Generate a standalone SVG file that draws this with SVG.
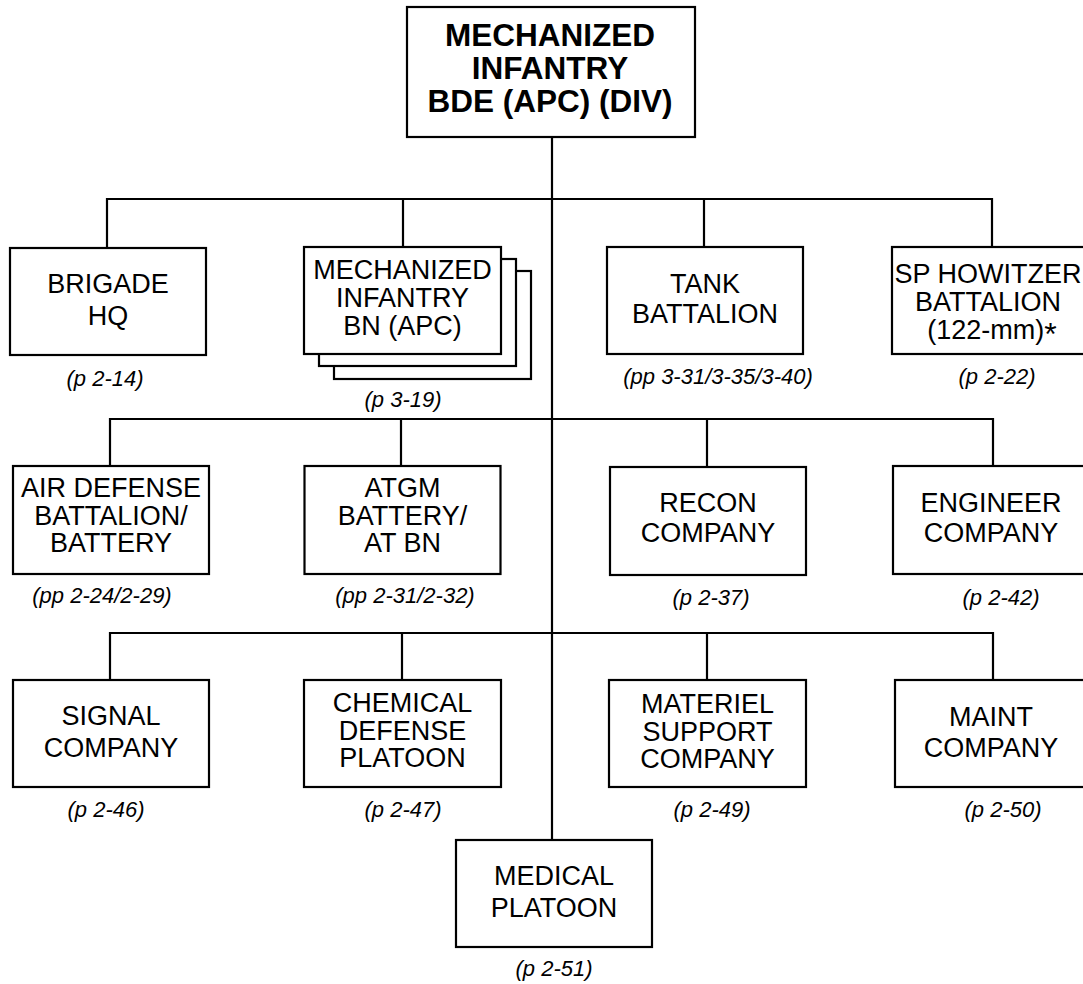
<svg xmlns="http://www.w3.org/2000/svg" width="1083" height="984" viewBox="0 0 1083 984">
<style>
.box{fill:#fff;stroke:#000;stroke-width:2.2}
.ln{fill:none;stroke:#000;stroke-width:2.2}
.t{font-family:"Liberation Sans",Arial,sans-serif;font-size:27px;text-anchor:middle;fill:#000}
.tb{font-family:"Liberation Sans",Arial,sans-serif;font-size:31.5px;font-weight:bold;text-anchor:middle;fill:#000}
.f{font-family:"Liberation Sans",Arial,sans-serif;font-size:22px;font-style:italic;text-anchor:middle;fill:#000}
.ast{font-size:32px}
</style>
<rect width="1083" height="984" fill="#fff"/>
<g id="connectors">
<path class="ln" d="M552,137 V840"/>
<path class="ln" d="M107,248 V199 H992 V248 M403,199 V247 M704,199 V247"/>
<path class="ln" d="M110,467 V419 H993 V467 M401,419 V467 M707,419 V467"/>
<path class="ln" d="M110,680 V633 H993 V680 M402,633 V680 M707,633 V680"/>
</g>
<g id="n-top">
<rect class="box" x="407" y="7" width="288" height="130"/>
<text class="tb" x="550" y="46">MECHANIZED</text>
<text class="tb" x="550" y="79">INFANTRY</text>
<text class="tb" x="550" y="112">BDE (APC) (DIV)</text>
</g>
<g id="n-bde-hq">
<rect class="box" x="10" y="248" width="196" height="107"/>
<text class="t" x="108" y="293">BRIGADE</text>
<text class="t" x="108" y="325">HQ</text>
<text class="f" x="105" y="386">(p 2-14)</text>
</g>
<g id="n-mech-bn">
<rect class="box" x="334" y="271" width="197" height="108"/>
<rect class="box" x="319" y="259" width="197" height="107"/>
<rect class="box" x="304" y="247" width="197" height="107"/>
<text class="t" x="402.5" y="279">MECHANIZED</text>
<text class="t" x="402.5" y="307">INFANTRY</text>
<text class="t" x="402.5" y="335">BN (APC)</text>
<text class="f" x="403" y="407">(p 3-19)</text>
</g>
<g id="n-tank">
<rect class="box" x="607" y="247" width="196" height="107"/>
<text class="t" x="705" y="293">TANK</text>
<text class="t" x="705" y="323">BATTALION</text>
<text class="f" x="718" y="384">(pp 3-31/3-35/3-40)</text>
</g>
<g id="n-sp-how">
<rect class="box" x="892" y="247" width="196" height="107"/>
<text class="t" x="988" y="283">SP HOWITZER</text>
<text class="t" x="988" y="311">BATTALION</text>
<text class="t" x="992" y="339">(122-mm)<tspan class="ast" dy="6">*</tspan></text>
<text class="f" x="997" y="384">(p 2-22)</text>
</g>
<g id="n-air-def">
<rect class="box" x="13" y="466" width="196" height="108"/>
<text class="t" x="111" y="497">AIR DEFENSE</text>
<text class="t" x="111" y="525">BATTALION/</text>
<text class="t" x="111" y="552">BATTERY</text>
<text class="f" x="102" y="603">(pp 2-24/2-29)</text>
</g>
<g id="n-atgm">
<rect class="box" x="304.5" y="466" width="196" height="108"/>
<text class="t" x="402.5" y="497">ATGM</text>
<text class="t" x="402.5" y="525">BATTERY/</text>
<text class="t" x="402.5" y="552">AT BN</text>
<text class="f" x="405" y="603">(pp 2-31/2-32)</text>
</g>
<g id="n-recon">
<rect class="box" x="610" y="467" width="196" height="108"/>
<text class="t" x="708" y="512">RECON</text>
<text class="t" x="708" y="542">COMPANY</text>
<text class="f" x="711" y="605">(p 2-37)</text>
</g>
<g id="n-engr">
<rect class="box" x="893" y="466" width="196" height="108"/>
<text class="t" x="991" y="512">ENGINEER</text>
<text class="t" x="991" y="542">COMPANY</text>
<text class="f" x="1001" y="605">(p 2-42)</text>
</g>
<g id="n-signal">
<rect class="box" x="13" y="680" width="196" height="107"/>
<text class="t" x="111" y="725">SIGNAL</text>
<text class="t" x="111" y="757">COMPANY</text>
<text class="f" x="106" y="817">(p 2-46)</text>
</g>
<g id="n-chem">
<rect class="box" x="304" y="680" width="197" height="107"/>
<text class="t" x="402.5" y="712">CHEMICAL</text>
<text class="t" x="402.5" y="740">DEFENSE</text>
<text class="t" x="402.5" y="767">PLATOON</text>
<text class="f" x="403" y="817">(p 2-47)</text>
</g>
<g id="n-materiel">
<rect class="box" x="609" y="680" width="197" height="107"/>
<text class="t" x="707.5" y="713">MATERIEL</text>
<text class="t" x="707.5" y="741">SUPPORT</text>
<text class="t" x="707.5" y="768">COMPANY</text>
<text class="f" x="712" y="817">(p 2-49)</text>
</g>
<g id="n-maint">
<rect class="box" x="895" y="680" width="196" height="107"/>
<text class="t" x="991" y="726">MAINT</text>
<text class="t" x="991" y="757">COMPANY</text>
<text class="f" x="1003" y="817">(p 2-50)</text>
</g>
<g id="n-medical">
<rect class="box" x="456" y="840" width="196" height="107"/>
<text class="t" x="554" y="885">MEDICAL</text>
<text class="t" x="554" y="917">PLATOON</text>
<text class="f" x="554" y="976">(p 2-51)</text>
</g>
</svg>
